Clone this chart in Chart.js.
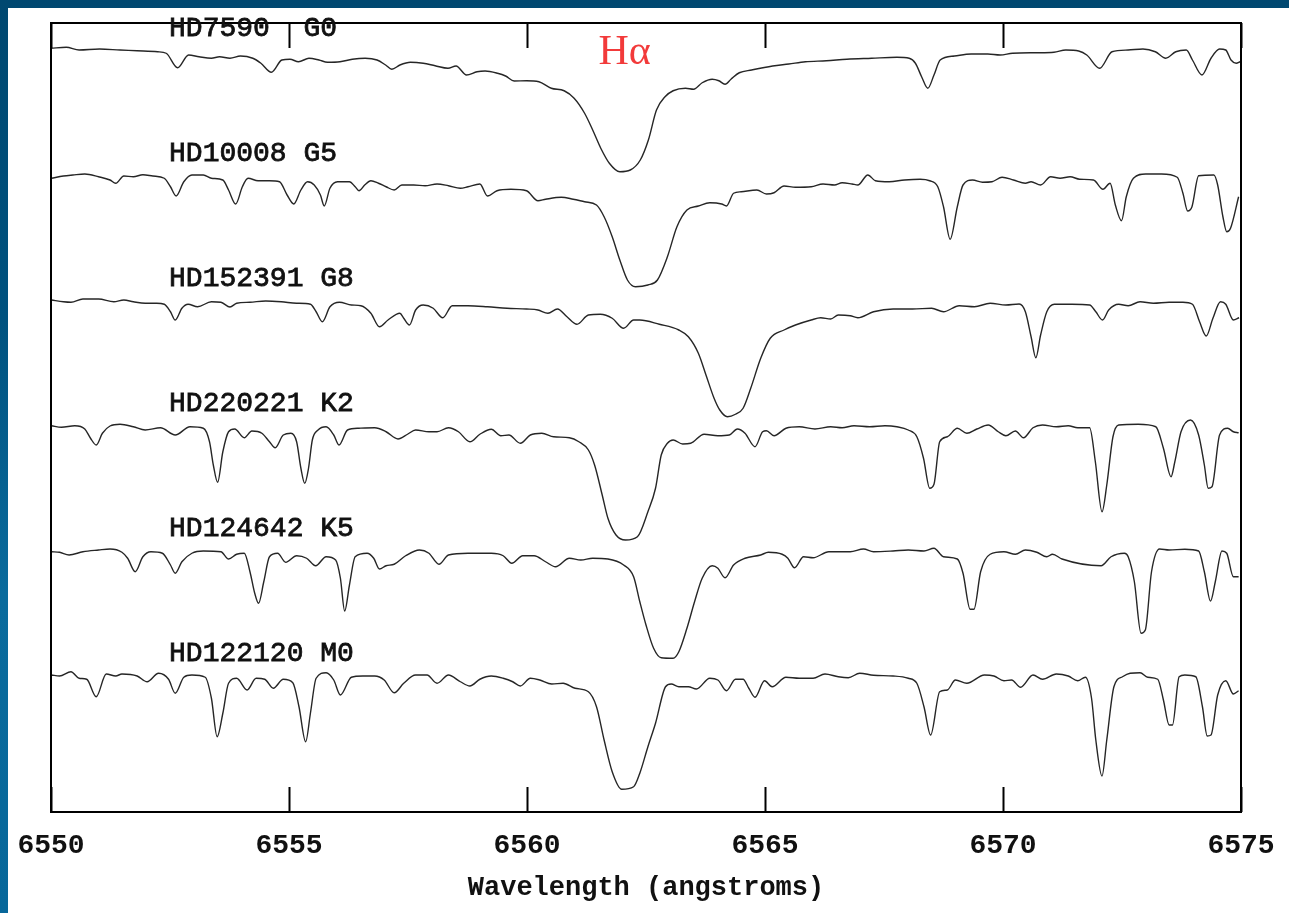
<!DOCTYPE html>
<html>
<head>
<meta charset="utf-8">
<title>H-alpha spectra</title>
<script src="https://cdn.jsdelivr.net/npm/chart.js@4.4.1/dist/chart.umd.min.js"></script>
<style>
  html, body { margin: 0; padding: 0; width: 1289px; height: 913px; overflow: hidden; }
  body { background: linear-gradient(180deg, #004870 0%, #00527f 35%, #0a6b9d 65%, #07679a 100%); position: relative; }
  #panel { position: absolute; left: 8px; top: 8px; width: 1281px; height: 905px; background: #fff; }
  #chart { position: absolute; left: 0; top: 0; }
</style>
</head>
<body>
<div id="panel"></div>
<canvas id="chart" width="1289" height="913"></canvas>
<script>
// wavelength (angstroms) and normalised flux for each star, top to bottom
const hd7590Wave = [6550.00,6550.32,6550.59,6551.02,6551.45,6551.81,6552.24,6552.42,6552.66,6552.89,6553.11,6553.37,6553.54,6553.76,6553.98,6554.24,6554.41,6554.63,6554.85,6555.02,6555.20,6555.42,6555.63,6555.81,6556.07,6556.33,6556.60,6556.85,6557.03,6557.16,6557.33,6557.55,6557.82,6558.07,6558.34,6558.51,6558.73,6558.95,6559.12,6559.38,6559.55,6559.73,6559.99,6560.25,6560.51,6560.78,6560.99,6561.21,6561.38,6561.55,6561.73,6561.95,6562.17,6562.38,6562.55,6562.72,6562.90,6563.07,6563.33,6563.50,6563.68,6563.89,6564.03,6564.16,6564.29,6564.46,6564.72,6565.16,6565.50,6565.85,6566.29,6566.72,6567.24,6567.77,6568.03,6568.16,6568.29,6568.42,6568.55,6568.68,6568.98,6569.33,6569.68,6569.94,6570.20,6570.71,6571.07,6571.32,6571.59,6571.76,6572.03,6572.29,6572.63,6572.94,6573.20,6573.42,6573.63,6573.85,6573.98,6574.18,6574.37,6574.55,6574.68,6574.79,6574.90,6574.98];
const hd7590Flux = [0.995,0.999,0.988,0.992,0.988,0.985,0.981,0.975,0.917,0.968,0.961,0.955,0.961,0.955,0.964,0.955,0.935,0.899,0.948,0.951,0.941,0.955,0.948,0.939,0.941,0.951,0.955,0.948,0.928,0.911,0.928,0.939,0.935,0.925,0.915,0.924,0.888,0.901,0.904,0.895,0.884,0.864,0.865,0.861,0.835,0.825,0.795,0.735,0.668,0.595,0.535,0.501,0.508,0.548,0.628,0.748,0.801,0.825,0.835,0.831,0.857,0.871,0.865,0.851,0.872,0.897,0.908,0.924,0.932,0.941,0.945,0.951,0.955,0.959,0.955,0.935,0.881,0.835,0.888,0.948,0.964,0.972,0.972,0.968,0.975,0.977,0.979,0.988,0.984,0.968,0.915,0.981,0.988,0.992,0.981,0.955,0.981,0.988,0.948,0.888,0.955,0.992,0.988,0.948,0.935,0.941];

const hd10008Wave = [6550.01,6550.26,6550.46,6550.71,6551.00,6551.24,6551.36,6551.53,6551.73,6551.93,6552.14,6552.38,6552.51,6552.63,6552.79,6552.96,6553.20,6553.37,6553.61,6553.73,6553.88,6554.02,6554.14,6554.35,6554.59,6554.80,6554.96,6555.10,6555.25,6555.39,6555.53,6555.66,6555.74,6555.86,6556.02,6556.27,6556.39,6556.47,6556.59,6556.72,6556.88,6557.04,6557.21,6557.37,6557.62,6557.86,6558.11,6558.35,6558.60,6558.76,6559.01,6559.17,6559.37,6559.66,6559.99,6560.23,6560.39,6560.72,6560.97,6561.21,6561.46,6561.62,6561.79,6561.95,6562.11,6562.28,6562.54,6562.74,6562.95,6563.15,6563.36,6563.60,6563.84,6564.09,6564.19,6564.34,6564.50,6564.83,6565.03,6565.19,6565.40,6565.64,6565.97,6566.22,6566.46,6566.62,6566.83,6566.95,6567.16,6567.32,6567.61,6567.93,6568.26,6568.46,6568.63,6568.75,6568.89,6569.04,6569.16,6569.36,6569.57,6569.77,6569.98,6570.22,6570.47,6570.59,6570.79,6571.00,6571.20,6571.41,6571.61,6571.90,6572.10,6572.25,6572.36,6572.49,6572.59,6572.74,6573.00,6573.33,6573.66,6573.78,6573.88,6573.97,6574.11,6574.43,6574.51,6574.62,6574.70,6574.78,6574.95];
const hd10008Flux = [0.975,0.984,0.988,0.992,0.981,0.968,0.955,0.984,0.981,0.989,0.984,0.975,0.941,0.904,0.961,0.988,0.988,0.975,0.968,0.928,0.872,0.941,0.975,0.965,0.965,0.961,0.908,0.872,0.928,0.961,0.948,0.908,0.864,0.935,0.961,0.961,0.941,0.925,0.948,0.965,0.955,0.941,0.928,0.948,0.948,0.945,0.952,0.945,0.935,0.941,0.952,0.904,0.925,0.931,0.925,0.885,0.891,0.899,0.891,0.881,0.868,0.821,0.741,0.648,0.568,0.541,0.548,0.568,0.661,0.781,0.848,0.864,0.877,0.872,0.864,0.915,0.921,0.928,0.912,0.917,0.944,0.939,0.941,0.952,0.948,0.957,0.952,0.948,0.988,0.965,0.961,0.968,0.971,0.965,0.941,0.861,0.731,0.861,0.948,0.968,0.959,0.961,0.979,0.968,0.955,0.961,0.948,0.981,0.975,0.981,0.971,0.968,0.931,0.955,0.868,0.805,0.901,0.975,0.992,0.992,0.979,0.915,0.844,0.861,0.985,0.988,0.948,0.821,0.761,0.775,0.901];

const hd152391Wave = [6550.01,6550.26,6550.42,6550.67,6551.00,6551.32,6551.53,6551.73,6551.98,6552.22,6552.38,6552.51,6552.61,6552.75,6552.88,6553.08,6553.37,6553.57,6553.76,6553.90,6554.18,6554.51,6554.84,6555.16,6555.45,6555.57,6555.70,6555.86,6556.06,6556.31,6556.51,6556.72,6556.90,6557.08,6557.33,6557.41,6557.53,6557.66,6557.82,6558.03,6558.23,6558.43,6558.76,6559.17,6559.58,6559.99,6560.23,6560.44,6560.64,6560.84,6561.05,6561.29,6561.54,6561.79,6562.03,6562.24,6562.37,6562.78,6563.19,6563.39,6563.60,6563.76,6563.93,6564.05,6564.21,6564.38,6564.54,6564.70,6564.91,6565.11,6565.40,6565.64,6565.97,6566.17,6566.38,6566.54,6566.79,6566.95,6567.28,6567.69,6568.10,6568.50,6568.75,6569.08,6569.40,6569.73,6570.06,6570.34,6570.47,6570.59,6570.69,6570.79,6570.92,6571.08,6571.45,6571.82,6571.95,6572.09,6572.22,6572.43,6572.63,6572.88,6573.16,6573.49,6573.78,6573.98,6574.13,6574.27,6574.41,6574.57,6574.68,6574.84,6574.96];
const hd152391Flux = [0.988,0.981,0.979,0.992,0.992,0.981,0.988,0.981,0.975,0.975,0.971,0.941,0.908,0.955,0.971,0.961,0.981,0.979,0.960,0.975,0.979,0.984,0.981,0.975,0.971,0.941,0.901,0.961,0.979,0.968,0.965,0.935,0.881,0.908,0.935,0.915,0.888,0.948,0.968,0.955,0.917,0.965,0.965,0.961,0.955,0.952,0.948,0.935,0.952,0.921,0.891,0.928,0.931,0.915,0.875,0.908,0.908,0.891,0.868,0.841,0.775,0.688,0.595,0.548,0.521,0.531,0.555,0.635,0.755,0.835,0.868,0.888,0.908,0.917,0.912,0.928,0.925,0.917,0.941,0.952,0.952,0.955,0.941,0.965,0.961,0.975,0.968,0.972,0.941,0.841,0.757,0.848,0.941,0.971,0.971,0.968,0.941,0.908,0.948,0.971,0.965,0.981,0.975,0.979,0.979,0.971,0.901,0.844,0.915,0.981,0.971,0.908,0.917];

const hd220221Wave = [6550.01,6550.22,6550.50,6550.71,6550.83,6550.95,6551.08,6551.24,6551.45,6551.73,6551.98,6552.30,6552.61,6552.92,6553.20,6553.33,6553.41,6553.50,6553.61,6553.73,6553.86,6554.06,6554.22,6554.43,6554.59,6554.71,6554.88,6555.04,6555.16,6555.25,6555.33,6555.41,6555.49,6555.61,6555.78,6555.94,6556.05,6556.23,6556.47,6556.80,6557.04,6557.29,6557.49,6557.66,6557.94,6558.11,6558.35,6558.56,6558.80,6559.01,6559.25,6559.45,6559.62,6559.86,6560.07,6560.31,6560.56,6560.89,6561.09,6561.29,6561.42,6561.58,6561.70,6561.87,6562.07,6562.32,6562.54,6562.70,6562.82,6562.95,6563.07,6563.27,6563.44,6563.72,6564.01,6564.25,6564.42,6564.58,6564.79,6564.95,6565.03,6565.19,6565.44,6565.72,6566.05,6566.38,6566.62,6566.87,6567.20,6567.52,6567.77,6568.01,6568.19,6568.33,6568.46,6568.55,6568.67,6568.83,6569.04,6569.24,6569.45,6569.69,6569.90,6570.06,6570.26,6570.43,6570.63,6570.83,6571.12,6571.37,6571.57,6571.82,6571.94,6572.08,6572.18,6572.31,6572.43,6572.84,6573.21,6573.37,6573.53,6573.61,6573.74,6573.94,6574.11,6574.23,6574.31,6574.39,6574.55,6574.72,6574.84,6574.95];
const hd220221Flux = [0.985,0.979,0.985,0.972,0.935,0.908,0.955,0.984,0.991,0.981,0.968,0.977,0.948,0.981,0.975,0.921,0.828,0.759,0.881,0.961,0.972,0.937,0.964,0.955,0.921,0.897,0.948,0.955,0.921,0.815,0.755,0.815,0.928,0.968,0.981,0.948,0.908,0.968,0.975,0.977,0.961,0.932,0.951,0.968,0.961,0.961,0.977,0.961,0.921,0.951,0.971,0.945,0.948,0.915,0.948,0.955,0.941,0.937,0.921,0.888,0.828,0.708,0.615,0.548,0.528,0.541,0.641,0.735,0.868,0.915,0.928,0.912,0.915,0.951,0.945,0.948,0.972,0.955,0.901,0.961,0.965,0.945,0.975,0.981,0.972,0.981,0.977,0.985,0.981,0.985,0.981,0.968,0.941,0.855,0.735,0.751,0.921,0.941,0.975,0.955,0.972,0.988,0.961,0.945,0.964,0.937,0.977,0.988,0.981,0.985,0.977,0.977,0.841,0.641,0.748,0.941,0.988,0.991,0.981,0.895,0.781,0.841,0.961,1.008,0.948,0.828,0.735,0.741,0.948,0.975,0.961,0.957];

const hd124642Wave = [6550.01,6550.18,6550.38,6550.67,6551.00,6551.24,6551.49,6551.61,6551.77,6551.93,6552.10,6552.34,6552.51,6552.61,6552.75,6552.96,6553.20,6553.57,6553.73,6553.90,6554.06,6554.18,6554.28,6554.36,6554.47,6554.59,6554.76,6554.93,6555.16,6555.37,6555.56,6555.78,6555.98,6556.08,6556.17,6556.27,6556.39,6556.64,6556.78,6556.90,6557.04,6557.21,6557.45,6557.74,6557.94,6558.15,6558.35,6558.76,6559.25,6559.50,6559.68,6559.91,6560.15,6560.39,6560.60,6560.89,6561.13,6561.38,6561.70,6562.03,6562.24,6562.37,6562.50,6562.66,6562.82,6563.07,6563.19,6563.36,6563.52,6563.68,6563.89,6564.01,6564.16,6564.34,6564.58,6564.91,6565.07,6565.36,6565.48,6565.62,6565.81,6566.01,6566.34,6566.79,6567.07,6567.28,6567.69,6568.01,6568.34,6568.55,6568.75,6569.04,6569.16,6569.31,6569.39,6569.53,6569.73,6570.02,6570.26,6570.47,6570.71,6570.92,6571.04,6571.24,6572.06,6572.27,6572.55,6572.63,6572.76,6572.90,6572.99,6573.12,6573.29,6573.49,6573.82,6574.11,6574.23,6574.36,6574.46,6574.60,6574.70,6574.84,6574.95];
const hd124642Flux = [0.981,0.979,0.968,0.981,0.988,0.992,0.979,0.955,0.901,0.961,0.981,0.975,0.928,0.895,0.941,0.975,0.984,0.981,0.952,0.971,0.975,0.901,0.815,0.775,0.861,0.961,0.975,0.939,0.965,0.955,0.925,0.961,0.948,0.875,0.744,0.848,0.961,0.975,0.955,0.912,0.925,0.931,0.965,0.988,0.975,0.931,0.968,0.975,0.975,0.965,0.935,0.965,0.965,0.941,0.921,0.955,0.948,0.955,0.952,0.928,0.881,0.781,0.688,0.595,0.557,0.555,0.581,0.675,0.781,0.875,0.925,0.915,0.877,0.928,0.955,0.968,0.979,0.971,0.955,0.917,0.961,0.957,0.981,0.981,0.992,0.981,0.984,0.988,0.984,0.995,0.961,0.952,0.895,0.751,0.751,0.901,0.971,0.981,0.971,0.988,0.979,0.961,0.971,0.952,0.925,0.961,0.975,0.961,0.861,0.655,0.668,0.901,0.992,0.988,0.991,0.984,0.901,0.784,0.861,0.984,0.975,0.881,0.881];

const hd122120Wave = [6550.01,6550.18,6550.42,6550.59,6550.75,6550.95,6551.16,6551.36,6551.49,6551.81,6552.02,6552.26,6552.47,6552.61,6552.79,6552.96,6553.24,6553.37,6553.49,6553.61,6553.73,6553.90,6554.12,6554.31,6554.49,6554.67,6554.88,6555.08,6555.21,6555.35,6555.45,6555.57,6555.78,6555.94,6556.08,6556.31,6556.55,6556.80,6557.00,6557.21,6557.41,6557.66,6557.90,6558.11,6558.35,6558.60,6558.80,6559.01,6559.25,6559.50,6559.70,6559.86,6560.07,6560.27,6560.52,6560.76,6561.01,6561.29,6561.46,6561.62,6561.79,6561.99,6562.24,6562.37,6562.54,6562.70,6562.91,6563.03,6563.19,6563.39,6563.56,6563.84,6564.01,6564.19,6564.38,6564.54,6564.66,6564.79,6564.99,6565.15,6565.44,6565.72,6566.01,6566.26,6566.54,6566.75,6566.99,6567.28,6567.69,6568.01,6568.19,6568.34,6568.48,6568.67,6568.83,6569.00,6569.24,6569.61,6569.81,6570.02,6570.18,6570.37,6570.63,6570.83,6571.12,6571.37,6571.57,6571.73,6571.86,6571.95,6572.08,6572.18,6572.33,6572.51,6572.67,6572.88,6573.04,6573.25,6573.37,6573.49,6573.56,6573.70,6573.82,6574.05,6574.19,6574.29,6574.37,6574.51,6574.68,6574.84,6574.95];
const hd122120Flux = [0.988,0.984,1.001,0.975,0.971,0.901,0.992,0.984,0.992,0.984,0.961,0.995,0.971,0.915,0.979,0.988,0.979,0.895,0.741,0.835,0.955,0.975,0.928,0.975,0.971,0.935,0.971,0.957,0.861,0.721,0.835,0.975,0.997,0.968,0.908,0.979,0.984,0.984,0.968,0.917,0.955,0.988,0.988,0.955,0.988,0.961,0.944,0.971,0.984,0.975,0.961,0.944,0.975,0.968,0.952,0.955,0.935,0.921,0.861,0.728,0.601,0.531,0.541,0.595,0.701,0.795,0.941,0.952,0.941,0.941,0.932,0.975,0.968,0.925,0.971,0.971,0.935,0.899,0.965,0.941,0.979,0.975,0.975,0.992,0.981,0.977,0.995,0.987,0.984,0.975,0.955,0.861,0.748,0.921,0.928,0.968,0.955,0.988,0.984,0.965,0.968,0.939,0.988,0.971,0.992,0.984,0.965,0.979,0.895,0.728,0.584,0.728,0.941,0.981,0.995,0.997,0.979,0.971,0.888,0.788,0.788,0.981,0.988,0.981,0.861,0.744,0.748,0.908,0.965,0.912,0.925];

const starNames = ['HD7590  G0', 'HD10008 G5', 'HD152391 G8', 'HD220221 K2', 'HD124642 K5', 'HD122120 M0'];
const waves = [hd7590Wave, hd10008Wave, hd152391Wave, hd220221Wave, hd124642Wave, hd122120Wave];
const fluxes = [hd7590Flux, hd10008Flux, hd152391Flux, hd220221Flux, hd124642Flux, hd122120Flux];
const xTicks = [6550, 6555, 6560, 6565, 6570, 6575];

// each spectrum is shifted down by this much so they stack
const STACK_STEP = 0.5;
const MONO = "'Liberation Mono', 'DejaVu Sans Mono', monospace";

const datasets = waves.map((w, i) => ({
  label: starNames[i],
  data: w.map((x, k) => ({ x: x, y: fluxes[i][k] - i * STACK_STEP })),
  showLine: true,
  borderColor: '#262626',
  borderWidth: 1.4,
  pointRadius: 0,
  fill: false,
  cubicInterpolationMode: 'monotone'
}));

// box around the plot plus inward tick marks on top and bottom
const framePlugin = {
  id: 'frame',
  afterDraw(chart) {
    const { ctx, chartArea: a, scales } = chart;
    const x = scales.x;
    ctx.save();
    ctx.strokeStyle = '#000';
    ctx.lineWidth = 2;
    ctx.strokeRect(a.left, a.top, a.right - a.left, a.bottom - a.top);
    xTicks.forEach(v => {
      const px = Math.round(x.getPixelForValue(v)) + 0.5;
      ctx.beginPath();
      ctx.moveTo(px, a.top);
      ctx.lineTo(px, a.top + 25);
      ctx.moveTo(px, a.bottom);
      ctx.lineTo(px, a.bottom - 25);
      ctx.stroke();
    });
    ctx.restore();
  }
};

// star names above each spectrum and the H-alpha marker
const labelPlugin = {
  id: 'starLabels',
  afterDraw(chart) {
    const { ctx, scales } = chart;
    const x = scales.x, y = scales.y;
    ctx.save();
    ctx.fillStyle = '#111';
    ctx.strokeStyle = '#111';
    ctx.lineWidth = 0.8;
    ctx.font = '28px ' + MONO;
    ctx.textBaseline = 'alphabetic';
    ctx.textAlign = 'left';
    starNames.forEach((name, i) => {
      const px = x.getPixelForValue(6552.48);
      const py = y.getPixelForValue(1.045 - i * STACK_STEP);
      ctx.fillText(name, px, py);
      ctx.strokeText(name, px, py);
    });
    ctx.fillStyle = '#f23a3a';
    ctx.font = "42px 'Liberation Serif', serif";
    ctx.fillText('Hα', x.getPixelForValue(6561.5), y.getPixelForValue(0.932));
    ctx.restore();
  }
};

const ctx = document.getElementById('chart').getContext('2d');
new Chart(ctx, {
  type: 'scatter',
  data: { datasets: datasets },
  options: {
    responsive: false,
    animation: false,
    devicePixelRatio: 1,
    layout: { padding: { left: 51, right: 48, top: 23, bottom: 0 } },
    plugins: {
      legend: { display: false },
      tooltip: { enabled: false }
    },
    scales: {
      x: {
        type: 'linear',
        min: 6550,
        max: 6575,
        afterBuildTicks(scale) { scale.ticks = xTicks.map(v => ({ value: v })); },
        afterFit(scale) {
          scale.height = 101;
          scale.paddingLeft = 0;
          scale.paddingRight = 0;
        },
        grid: { display: false, drawTicks: false },
        border: { display: false },
        ticks: {
          color: '#111',
          padding: 17,
          maxRotation: 0,
          autoSkip: false,
          font: { family: MONO, size: 28, weight: 'bold' },
          callback: v => String(v)
        },
        title: {
          display: true,
          text: 'Wavelength (angstroms)',
          color: '#111',
          font: { family: MONO, size: 27, weight: 'bold' },
          padding: { top: 0, bottom: 9 }
        }
      },
      y: {
        type: 'linear',
        display: false,
        min: -2.06,
        max: 1.096
      }
    }
  },
  plugins: [framePlugin, labelPlugin]
});
</script>
</body>
</html>
